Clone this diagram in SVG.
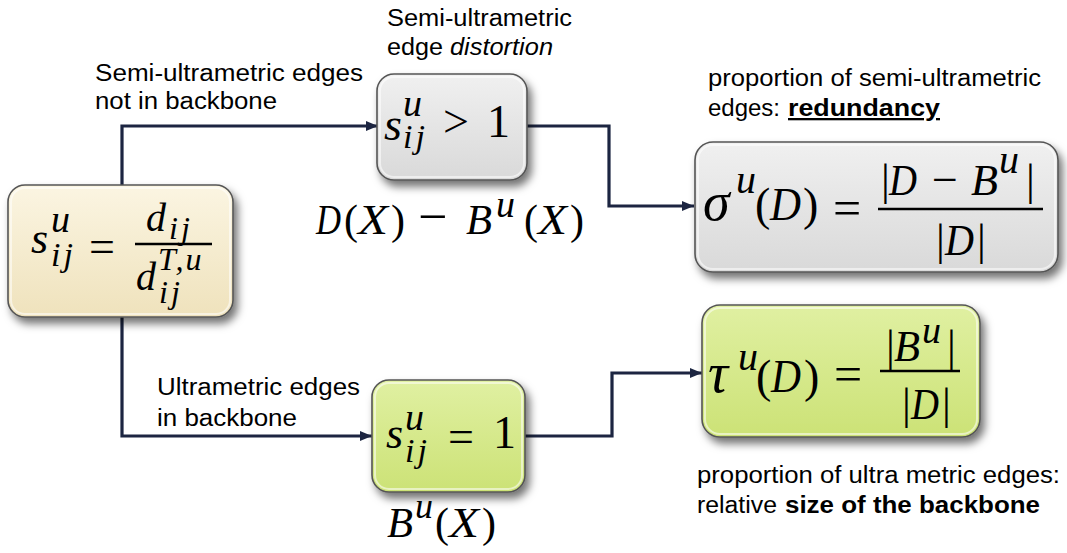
<svg xmlns="http://www.w3.org/2000/svg" width="1067" height="553" viewBox="0 0 1067 553">
<defs>
<style>
.lb{font-family:"Liberation Sans",Arial,sans-serif;font-size:23px;fill:#000}
.b{font-weight:bold}
.it{font-style:italic}
.mi{font-family:"Liberation Serif","Times New Roman",serif;font-style:italic;fill:#000}
.mr{font-family:"Liberation Serif","Times New Roman",serif;font-style:normal;fill:#000}
.ij{letter-spacing:3px}
.node{stroke:#555;stroke-width:1.6}
.hl{fill:none;stroke:#fff;stroke-opacity:0.55;stroke-width:2}
.conn{fill:none;stroke:#1c2541;stroke-width:3.2}
.fl{stroke:#000;stroke-width:2.4}
</style>
<linearGradient id="gCream" x1="0" y1="0" x2="0" y2="1"><stop offset="0" stop-color="#fbf5e2"/><stop offset="1" stop-color="#efe2bc"/></linearGradient>
<linearGradient id="gGray" x1="0" y1="0" x2="0" y2="1"><stop offset="0" stop-color="#f0f0f0"/><stop offset="1" stop-color="#d9d9d9"/></linearGradient>
<linearGradient id="gGreen" x1="0" y1="0" x2="0" y2="1"><stop offset="0" stop-color="#e0f0a2"/><stop offset="1" stop-color="#cce276"/></linearGradient>
<filter id="sh" x="-10%" y="-10%" width="130%" height="140%"><feDropShadow dx="4" dy="6" stdDeviation="4" flood-color="#000" flood-opacity="0.55"/></filter>
<marker id="ah" markerWidth="12" markerHeight="10" refX="12" refY="5" orient="auto" markerUnits="userSpaceOnUse"><path d="M0,0 L12,5 L0,10 z" fill="#1c2541"/></marker>
</defs>
<rect width="1067" height="553" fill="#fff"/>

<g id="connectors">
<path class="conn" d="M122,185 V126 H378" marker-end="url(#ah)"/>
<path class="conn" d="M526,126 H609 V206 H694" marker-end="url(#ah)"/>
<path class="conn" d="M122,317 V436 H372" marker-end="url(#ah)"/>
<path class="conn" d="M525,436 H612 V373 H702" marker-end="url(#ah)"/>
</g>

<g id="labels">
<text class="lb" x="95" y="81" textLength="268" lengthAdjust="spacingAndGlyphs">Semi-ultrametric edges</text>
<text class="lb" x="95" y="109" textLength="182" lengthAdjust="spacingAndGlyphs">not in backbone</text>
<text class="lb" x="387" y="26" textLength="185" lengthAdjust="spacingAndGlyphs">Semi-ultrametric</text>
<text class="lb" x="387" y="55" textLength="56" lengthAdjust="spacingAndGlyphs">edge</text>
<text class="lb it" x="450" y="55" textLength="103" lengthAdjust="spacingAndGlyphs">distortion</text>
<text class="lb" x="708" y="86" textLength="333" lengthAdjust="spacingAndGlyphs">proportion of semi-ultrametric</text>
<text class="lb" x="708" y="116" textLength="72" lengthAdjust="spacingAndGlyphs">edges:</text>
<text class="lb b" x="788" y="116" textLength="152" lengthAdjust="spacingAndGlyphs" text-decoration="underline">redundancy</text>
<text class="lb" x="157" y="395" textLength="203" lengthAdjust="spacingAndGlyphs">Ultrametric edges</text>
<text class="lb" x="157" y="426" textLength="140" lengthAdjust="spacingAndGlyphs">in backbone</text>
<text class="lb" x="697" y="483" textLength="363" lengthAdjust="spacingAndGlyphs">proportion of ultra  metric edges:</text>
<text class="lb" x="697" y="513" textLength="80" lengthAdjust="spacingAndGlyphs">relative</text>
<text class="lb b" x="785" y="513" textLength="255" lengthAdjust="spacingAndGlyphs">size of the backbone</text>
</g>

<g id="n-ratio">
<rect class="node" x="8" y="185" width="225" height="132" rx="17" fill="url(#gCream)" filter="url(#sh)"/>
<rect class="hl" x="11" y="188" width="219" height="126" rx="14"/>
<text class="mi" x="31" y="253" font-size="44">s</text>
<text class="mi" x="51" y="232" font-size="38">u</text>
<text class="mi ij" x="51" y="266" font-size="34">ij</text>
<text class="mr" x="89" y="262" font-size="46">=</text>
<line class="fl" x1="135" y1="244" x2="212" y2="244"/>
<text class="mi" x="146" y="231" font-size="40">d</text>
<text class="mi ij" x="169" y="239" font-size="32">ij</text>
<text class="mi" x="136" y="290" font-size="40">d</text>
<text class="mi" x="158" y="270" font-size="32" letter-spacing="2">T,u</text>
<text class="mi ij" x="159" y="303" font-size="32">ij</text>
</g>

<g id="n-distortion">
<rect class="node" x="377" y="74" width="150" height="106" rx="17" fill="url(#gGray)" filter="url(#sh)"/>
<rect class="hl" x="380" y="77" width="144" height="100" rx="14"/>
<text class="mi" x="384" y="140" font-size="46">s</text>
<text class="mi" x="403" y="116" font-size="38">u</text>
<text class="mi ij" x="403" y="148" font-size="34">ij</text>
<text class="mr" x="443" y="137" font-size="46">&gt;</text>
<text class="mr" x="487" y="137" font-size="46">1</text>
</g>
<g id="t-dminusb">
<text class="mi" x="316" y="234" font-size="42" textLength="25" lengthAdjust="spacingAndGlyphs">D</text>
<text class="mr" x="344" y="234" font-size="42">(</text>
<text class="mi" x="358" y="234" font-size="42" textLength="30" lengthAdjust="spacingAndGlyphs">X</text>
<text class="mr" x="391" y="234" font-size="42">)</text>
<text class="mr" x="418" y="234" font-size="52">−</text>
<text class="mi" x="466" y="234" font-size="42" textLength="26" lengthAdjust="spacingAndGlyphs">B</text>
<text class="mi" x="496" y="217" font-size="38">u</text>
<text class="mr" x="524" y="234" font-size="42">(</text>
<text class="mi" x="538" y="234" font-size="42" textLength="29" lengthAdjust="spacingAndGlyphs">X</text>
<text class="mr" x="570" y="234" font-size="42">)</text>
</g>

<g id="n-redundancy">
<rect class="node" x="695" y="142" width="363" height="130" rx="18" fill="url(#gGray)" filter="url(#sh)"/>
<rect class="hl" x="698" y="145" width="357" height="124" rx="15"/>
<text class="mi" x="703" y="220" font-size="54">σ</text>
<text class="mi" x="736" y="193" font-size="40">u</text>
<text class="mr" x="755" y="220" font-size="46">(</text>
<text class="mi" x="770" y="220" font-size="46" textLength="31" lengthAdjust="spacingAndGlyphs">D</text>
<text class="mr" x="803" y="220" font-size="46">)</text>
<text class="mr" x="833" y="225" font-size="50">=</text>
<line class="fl" x1="878" y1="209" x2="1043" y2="209"/>
<text class="mr" x="881" y="195" font-size="44">|</text>
<text class="mi" x="889" y="195" font-size="44" textLength="28" lengthAdjust="spacingAndGlyphs">D</text>
<text class="mr" x="932" y="195" font-size="46">−</text>
<text class="mi" x="971" y="195" font-size="44" textLength="27" lengthAdjust="spacingAndGlyphs">B</text>
<text class="mi" x="999" y="173" font-size="40">u</text>
<text class="mr" x="1026" y="195" font-size="44">|</text>
<text class="mr" x="936" y="255" font-size="44">|</text>
<text class="mi" x="945" y="255" font-size="44" textLength="29" lengthAdjust="spacingAndGlyphs">D</text>
<text class="mr" x="977" y="255" font-size="44">|</text>
</g>

<g id="n-backbone">
<rect class="node" x="372" y="380" width="153" height="112" rx="17" fill="url(#gGreen)" filter="url(#sh)"/>
<rect class="hl" x="375" y="383" width="147" height="106" rx="14"/>
<text class="mi" x="386" y="448" font-size="44">s</text>
<text class="mi" x="405" y="430" font-size="38">u</text>
<text class="mi ij" x="405" y="462" font-size="34">ij</text>
<text class="mr" x="448" y="452" font-size="46">=</text>
<text class="mr" x="493" y="448" font-size="46">1</text>
</g>
<g id="t-bux">
<text class="mi" x="387" y="537" font-size="42" textLength="26" lengthAdjust="spacingAndGlyphs">B</text>
<text class="mi" x="415" y="518" font-size="36">u</text>
<text class="mr" x="435" y="537" font-size="42">(</text>
<text class="mi" x="449" y="537" font-size="42" textLength="30" lengthAdjust="spacingAndGlyphs">X</text>
<text class="mr" x="482" y="537" font-size="42">)</text>
</g>

<g id="n-size">
<rect class="node" x="702" y="305" width="278" height="132" rx="18" fill="url(#gGreen)" filter="url(#sh)"/>
<rect class="hl" x="705" y="308" width="272" height="126" rx="15"/>
<text class="mi" x="708" y="392" font-size="56">τ</text>
<text class="mi" x="738" y="370" font-size="40">u</text>
<text class="mr" x="756" y="392" font-size="46">(</text>
<text class="mi" x="771" y="392" font-size="46" textLength="30" lengthAdjust="spacingAndGlyphs">D</text>
<text class="mr" x="804" y="392" font-size="46">)</text>
<text class="mr" x="834" y="391" font-size="50">=</text>
<line class="fl" x1="880" y1="371" x2="960" y2="371"/>
<text class="mr" x="886" y="361" font-size="44">|</text>
<text class="mi" x="894" y="361" font-size="44" textLength="26" lengthAdjust="spacingAndGlyphs">B</text>
<text class="mi" x="922" y="343" font-size="38">u</text>
<text class="mr" x="947" y="361" font-size="44">|</text>
<text class="mr" x="902" y="419" font-size="44">|</text>
<text class="mi" x="911" y="419" font-size="44" textLength="28" lengthAdjust="spacingAndGlyphs">D</text>
<text class="mr" x="942" y="419" font-size="44">|</text>
</g>
</svg>
